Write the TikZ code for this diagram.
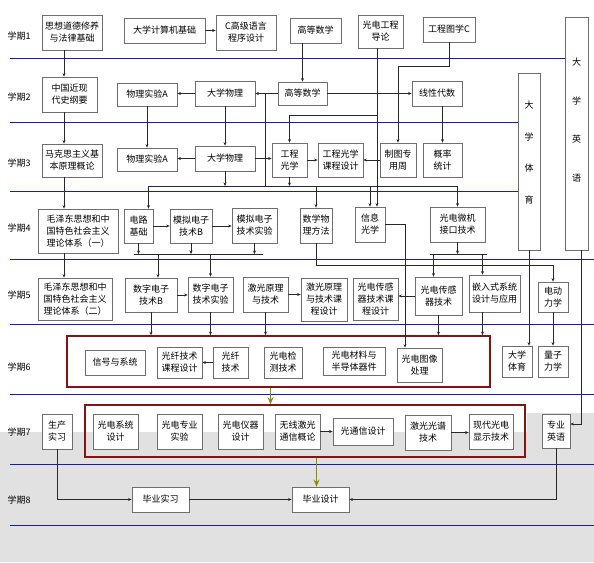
\documentclass[tikz,border=0pt]{standalone}
\usepackage{fontspec}
\newfontfamily\cjk{Noto Sans CJK SC}
\usetikzlibrary{arrows.meta}
\definecolor{boxgray}{RGB}{110,110,110}
\definecolor{linegray}{RGB}{40,40,40}
\definecolor{bandblue}{RGB}{25,25,200}
\definecolor{framered}{RGB}{130,20,20}
\definecolor{arrowolive}{RGB}{140,140,0}
\definecolor{bggray}{RGB}{225,225,225}
\begin{document}
\begin{tikzpicture}[x=1pt,y=-1pt,
  course/.style={draw=boxgray,fill=white,line width=0.8pt,align=center,inner sep=1pt,font=\cjk\fontsize{9}{12}\selectfont},
  vtext/.style={align=center,font=\cjk\fontsize{9}{#1}\selectfont},
  termlabel/.style={font=\cjk\fontsize{9}{11}\selectfont},
  frame/.style={draw=framered,line width=1.6pt},
  band/.style={draw=bandblue,line width=1pt},
  line/.style={draw=linegray,line width=0.7pt},
  arr/.style={line,-{Stealth[length=3.5pt,width=3pt]}},
  bigarr/.style={draw=arrowolive,line width=1.8pt,-{Stealth[length=7pt,width=6pt]}}]
\useasboundingbox (0,0) rectangle (594,562);
\fill[bggray] (0,432) -- (527,432) -- (527,413) -- (594,413) -- (594,562) -- (0,562) -- cycle;

\draw[band] (10,58) -- (565,58);
\draw[band] (10,122) -- (518,122);
\draw[band] (10,191.5) -- (518,191.5);
\draw[band] (10,259.5) -- (594,259.5);
\draw[band] (10,324) -- (594,324);
\draw[band] (10,394) -- (594,394);
\draw[band] (10,464) -- (594,464);
\draw[band] (10,525) -- (594,525);

\node[termlabel] (t1) at (19,36) {学期1};
\node[termlabel] (t2) at (19,97) {学期2};
\node[termlabel] (t3) at (19,163) {学期3};
\node[termlabel] (t4) at (19,228) {学期4};
\node[termlabel] (t5) at (19,295) {学期5};
\node[termlabel] (t6) at (19,367) {学期6};
\node[termlabel] (t7) at (19,432) {学期7};
\node[termlabel] (t8) at (19,500) {学期8};

\node[frame,minimum width=423pt,minimum height=51pt] (redsix) at (278.5,361.5) {};
\node[frame,minimum width=440pt,minimum height=52pt] (redseven) at (305,431) {};

\node[course,minimum width=60pt,minimum height=35pt] (sixiang) at (72,32.5) {思想道德修养\\与法律基础};
\node[course,minimum width=81pt,minimum height=25pt] (jisuanji) at (164.5,30.5) {大学计算机基础};
\node[course,minimum width=60pt,minimum height=35pt] (cyuyan) at (246,32.5) {C高级语言\\程序设计};
\node[course,minimum width=51pt,minimum height=25pt] (gaoshu1) at (315.5,30.5) {高等数学};
\node[course,minimum width=45pt,minimum height=33pt] (daolun) at (380.5,31.5) {光电工程\\导论};
\node[course,minimum width=52pt,minimum height=25pt] (tuxue) at (449,29.5) {工程图学C};
\node[course,minimum width=23pt,minimum height=233pt,label={[vtext=38.7,yshift=13.5pt]center:大\\学\\英\\语}] (yingyu) at (576.5,133.5) {};

\node[course,minimum width=55pt,minimum height=35pt] (jindai) at (69.5,94.5) {中国近现\\代史纲要};
\node[course,minimum width=60pt,minimum height=23pt] (wlsy2) at (147,94.5) {物理实验A};
\node[course,minimum width=60pt,minimum height=25pt] (dxwl2) at (225,93.5) {大学物理};
\node[course,minimum width=49pt,minimum height=23pt] (gaoshu2) at (302.5,93.5) {高等数学};
\node[course,minimum width=50pt,minimum height=25pt] (xiandai) at (437,93.5) {线性代数};
\node[course,minimum width=22pt,minimum height=177pt,label={[vtext=31.7,yshift=9pt]center:大\\学\\体\\育}] (tiyu) at (529,161.5) {};

\node[course,minimum width=60pt,minimum height=33pt] (makesi) at (72,160.5) {马克思主义基\\本原理概论};
\node[course,minimum width=60pt,minimum height=23pt] (wlsy3) at (147,159.5) {物理实验A};
\node[course,minimum width=60pt,minimum height=25pt] (dxwl3) at (225,158.5) {大学物理};
\node[course,minimum width=35pt,minimum height=34pt] (gcgx) at (289.5,160) {工程\\光学};
\node[course,minimum width=45pt,minimum height=34pt] (gcgxsj) at (340.5,160) {工程光学\\课程设计};
\node[course,minimum width=36pt,minimum height=34pt] (zhitu) at (398,160) {制图专\\用周};
\node[course,minimum width=39pt,minimum height=34pt] (gailv) at (442.5,160) {概率\\统计};

\node[course,minimum width=80pt,minimum height=44pt] (mao1) at (78,231) {毛泽东思想和中\\国特色社会主义\\理论体系（一）};
\node[course,minimum width=29pt,minimum height=34pt] (dianlu) at (138.5,226) {电路\\基础};
\node[course,minimum width=42pt,minimum height=34pt] (mnB) at (191,226) {模拟电子\\技术B};
\node[course,minimum width=45pt,minimum height=35pt] (mnsy) at (254.5,225.5) {模拟电子\\技术实验};
\node[course,minimum width=32pt,minimum height=35pt] (shuwu) at (316,225.5) {数学物\\理方法};
\node[course,minimum width=30pt,minimum height=35pt] (xinxi) at (370,224.5) {信息\\光学};
\node[course,minimum width=55pt,minimum height=35pt] (weiji) at (457.5,224.5) {光电微机\\接口技术};

\node[course,minimum width=74pt,minimum height=42pt] (mao2) at (75,299) {毛泽东思想和中\\国特色社会主义\\理论体系（二）};
\node[course,minimum width=52pt,minimum height=34pt] (szB) at (151,295) {数字电子\\技术B};
\node[course,minimum width=45pt,minimum height=35pt] (szsy) at (210.5,294.5) {数字电子\\技术实验};
\node[course,minimum width=45pt,minimum height=35pt] (jgyl) at (265.5,294.5) {激光原理\\与技术};
\node[course,minimum width=46pt,minimum height=43pt] (jgsj) at (324,299.5) {激光原理\\与技术课\\程设计};
\node[course,minimum width=45pt,minimum height=42pt] (cgsj) at (375.5,299) {光电传感\\器技术课\\程设计};
\node[course,minimum width=47pt,minimum height=38pt] (cgq) at (438.5,296) {光电传感\\器技术};
\node[course,minimum width=51pt,minimum height=37pt] (qrs) at (494.5,293.5) {嵌入式系统\\设计与应用};
\node[course,minimum width=30pt,minimum height=30pt] (ddlx) at (553,297) {电动\\力学};

\node[course,minimum width=60pt,minimum height=25pt] (xhxt) at (115,362.5) {信号与系统};
\node[course,minimum width=45pt,minimum height=31pt] (gxsj) at (179.5,362.5) {光纤技术\\课程设计};
\node[course,minimum width=35pt,minimum height=31pt] (gxjs) at (230.5,362.5) {光纤\\技术};
\node[course,minimum width=38pt,minimum height=31pt] (gdjc) at (283,362.5) {光电检\\测技术};
\node[course,minimum width=62pt,minimum height=28pt] (gdcl) at (354,361) {光电材料与\\半导体器件};
\node[course,minimum width=45pt,minimum height=34pt] (txcl) at (419.5,365) {光电图像\\处理};
\node[course,minimum width=30pt,minimum height=31pt] (tiyu6) at (517,361.5) {大学\\体育};
\node[course,minimum width=30pt,minimum height=31pt] (liangzi) at (553,361.5) {量子\\力学};

\node[course,minimum width=30pt,minimum height=35pt] (shengchan) at (57,431.5) {生产\\实习};
\node[course,minimum width=45pt,minimum height=35pt] (gdxt) at (115.5,431.5) {光电系统\\设计};
\node[course,minimum width=45pt,minimum height=35pt] (zysy) at (179.5,431.5) {光电专业\\实验};
\node[course,minimum width=45pt,minimum height=35pt] (yqsj) at (240.5,431.5) {光电仪器\\设计};
\node[course,minimum width=45pt,minimum height=35pt] (wxjg) at (297.5,431.5) {无线激光\\通信概论};
\node[course,minimum width=60pt,minimum height=27pt] (gtx) at (363,431.5) {光通信设计};
\node[course,minimum width=46pt,minimum height=35pt] (jggp) at (428,432.5) {激光光谱\\技术};
\node[course,minimum width=44pt,minimum height=35pt] (xdxs) at (491,431.5) {现代光电\\显示技术};
\node[course,minimum width=28pt,minimum height=34pt] (zyyy) at (556,431) {专业\\英语};

\node[course,minimum width=57pt,minimum height=25pt] (bysx) at (160.5,499.5) {毕业实习};
\node[course,minimum width=57pt,minimum height=25pt] (bysj) at (320.5,499.5) {毕业设计};

\coordinate (spine) at (64,0);
\coordinate (rowA) at (0,115);
\coordinate (busA) at (0,186);
\coordinate (busC) at (0,254);

\draw[arr] (sixiang.south -| spine) -- (jindai.north -| spine);
\draw[arr] (jindai.south -| spine) -- (makesi.north -| spine);
\draw[arr] (makesi.south -| spine) -- (mao1.north -| spine);
\draw[arr] (mao1.south -| spine) -- (mao2.north -| spine);

\draw[arr] (jisuanji.east) -- (jisuanji.east -| cyuyan.west);
\draw[arr] (gaoshu1.south -| gaoshu2) -- (gaoshu2.north);
\draw[arr] (gaoshu2.west) -- (dxwl2.east);
\draw[arr] (dxwl2.west) -- (dxwl2.west -| wlsy2.east);
\draw[arr] (gaoshu2.east) -- (gaoshu2.east -| xiandai.west);
\draw[arr] (tuxue.south) -- ++(0,24) -| (zhitu.north);
\draw[arr] ([xshift=-3.5pt]daolun.south) -- ([xshift=-3.5pt]daolun.south |- xinxi.north);
\draw[arr] ([xshift=-3.5pt]daolun.south |- rowA) -| (gcgx.north);

\draw[arr] (wlsy2.south) -- (wlsy3.north);
\draw[arr] (dxwl2.south) -- (dxwl3.north);
\draw[arr] (xiandai.south -| gailv) -- (gailv.north);
\draw[arr] (dxwl3.west) -- (dxwl3.west -| wlsy3.east);
\draw[arr] (dxwl3.east) -- (dxwl3.east -| gcgx.west);
\draw[arr] (gcgx.east) -- (gcgx.east -| gcgxsj.west);
\draw[arr] (zhitu.west) -- (zhitu.west -| gcgxsj.east);

\draw[line] ([xshift=-12pt]gaoshu2.west) -- ([xshift=-12pt]gaoshu2.west |- busA);
\draw[arr] (dxwl3.south) -- (dxwl3.south |- busA);
\draw[arr] (gcgx.south) -- (gcgx.south |- busA);
\draw[arr] (gcgx.south |- busA) -| ([xshift=10pt]dianlu.north);
\draw[arr] (gcgx.south |- busA) -| (weiji.north);
\draw[arr] (shuwu.north |- busA) -- (shuwu.north);
\draw[arr] (xinxi.north |- busA) -- (xinxi.north);

\draw[arr] (dianlu.east) -- (dianlu.east -| mnB.west);
\draw[arr] (mnB.east) -- (mnB.east -| mnsy.west);
\draw[arr] (dianlu.south) -- (dianlu.south |- busC);
\draw[arr] (mnB.south) -- (mnB.south |- busC);
\draw[arr] (mnsy.south) -- (mnsy.south |- busC);
\draw[line] ([xshift=-5pt]dianlu.south |- busC) -- ([xshift=8pt]mnsy.south |- busC);
\draw[arr] ([xshift=7pt]szB.north |- busC) -- ([xshift=7pt]szB.north);
\draw[arr] (szsy.north |- busC) -- (szsy.north);
\draw[arr] (xinxi.east) -| ([xshift=-14.5pt]txcl.north);
\draw[arr] (shuwu.south) -- ++(0,22) -| (ddlx.north);
\draw[arr] (weiji.south) -- (weiji.south |- busC);
\draw[line] ([xshift=-8.5pt]cgq.north |- busC) -- ([xshift=-7.5pt]qrs.north |- busC);
\draw[arr] ([xshift=-5pt]cgq.north |- busC) -- ([xshift=-5pt]cgq.north);
\draw[arr] ([xshift=-12pt]qrs.north |- busC) -- ([xshift=-12pt]qrs.north);

\draw[arr] (szB.east) -- (szB.east -| szsy.west);
\draw[arr] (jgyl.east) -- (jgyl.east -| jgsj.west);
\draw[arr] (cgq.west) -- (cgq.west -| cgsj.east);
\draw[arr] (szB.south) -- (szB.south |- redsix.north);
\draw[arr] (szsy.south) -- (szsy.south |- redsix.north);
\draw[arr] (jgyl.south) -- (jgyl.south |- redsix.north);
\draw[arr] (cgq.south) -- (cgq.south |- redsix.north);
\draw[arr] ([xshift=-12pt]qrs.south) -- ([xshift=-12pt]qrs.south |- redsix.north);

\draw[arr] (gxjs.west) -- (gxjs.west -| gxsj.east);
\draw[arr] (tiyu.south) -- (tiyu.south |- tiyu6.north);
\draw[arr] (ddlx.south) -- (liangzi.north);
\draw[arr] ([xshift=5pt]yingyu.south) |- ([yshift=7pt]zyyy.east);
\draw[bigarr] ([xshift=-8pt]redsix.south) -- ([xshift=-8pt]redsix.south |- redseven.north);

\draw[arr] (wxjg.east) -- (wxjg.east -| gtx.west);
\draw[arr] (jggp.east) -- (jggp.east -| xdxs.west);
\draw[bigarr] ([xshift=-4pt]bysj.north |- redseven.south) -- ([xshift=-4pt]bysj.north);
\draw[arr] (shengchan.south) |- (bysx.west);
\draw[arr] (bysx.east) -- (bysj.west);
\draw[arr] (zyyy.south) |- (bysj.east);
\end{tikzpicture}
\end{document}
